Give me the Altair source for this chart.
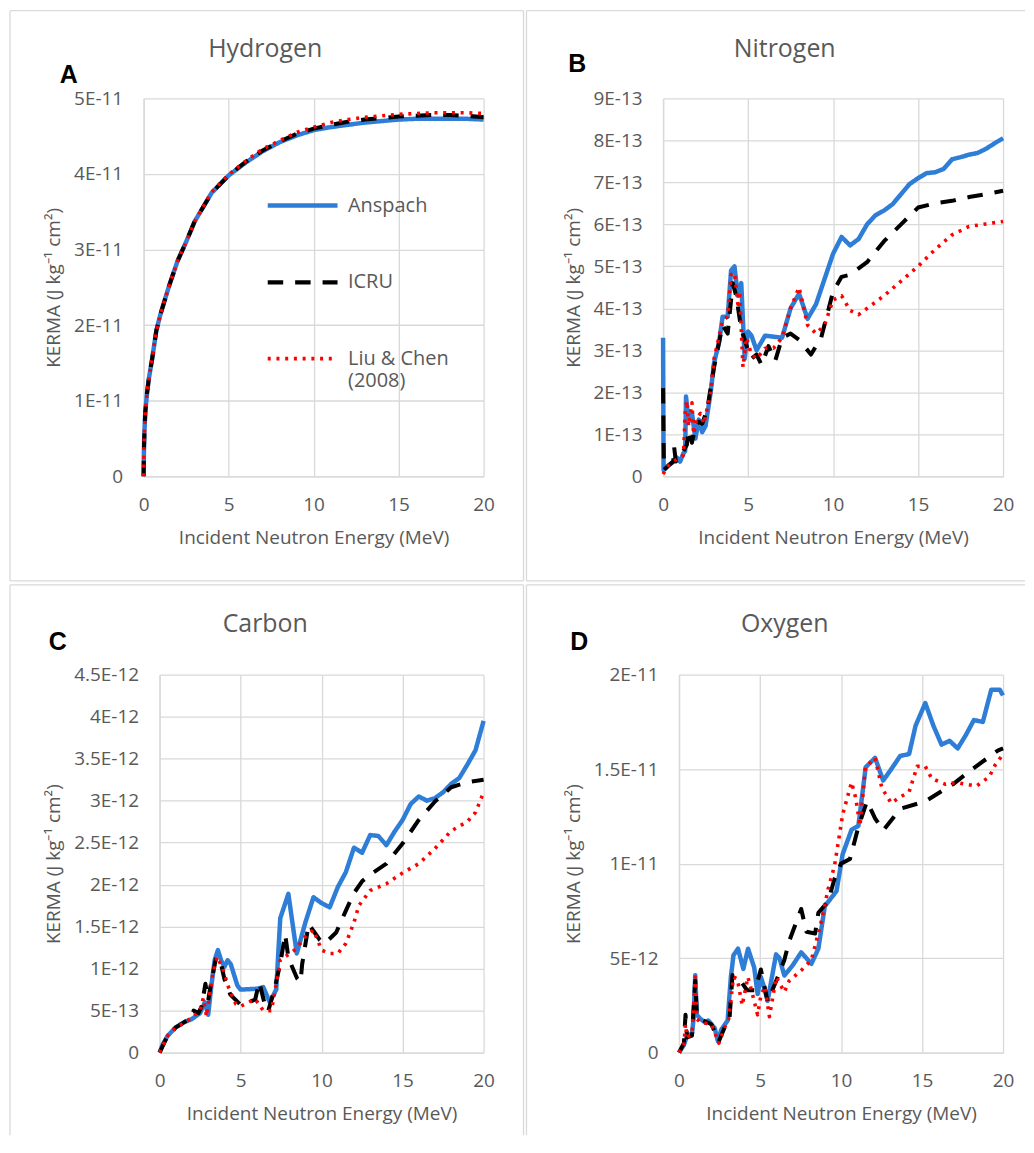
import altair as alt
import pandas as pd

SERIES = ["Anspach", "ICRU", "Liu & Chen (2008)"]
COLORS = ["#2E7DD7", "#000000", "#FF0000"]
DASHES = [[1, 0], [15.5, 12], [3, 5.75]]
WIDTHS = [4.5, 3.6, 3.3]

# ---------------- Hydrogen (values in 1E-11) ----------------
H_E = [0, 0.02, 0.05, 0.1, 0.2, 0.3, 0.5, 0.75, 1.0, 1.5, 2, 2.5, 3, 4, 5, 6, 7, 8, 9, 10,
       11, 12, 13, 14, 15, 16, 17, 18, 19, 20]
H_ANSPACH = [0, 0.35, 0.6, 0.85, 1.1, 1.28, 1.55, 1.93, 2.15, 2.52, 2.85, 3.1, 3.37, 3.75, 3.98,
             4.15, 4.30, 4.42, 4.51, 4.58, 4.62, 4.65, 4.68, 4.70, 4.72, 4.73, 4.73, 4.73, 4.73, 4.72]
H_ICRU = [0, 0.35, 0.6, 0.85, 1.1, 1.28, 1.55, 1.93, 2.15, 2.52, 2.85, 3.1, 3.37, 3.75, 3.98,
          4.16, 4.31, 4.43, 4.53, 4.60, 4.65, 4.69, 4.72, 4.74, 4.76, 4.77, 4.78, 4.78, 4.77, 4.75]
H_LIU = [0, 0.35, 0.6, 0.85, 1.1, 1.28, 1.55, 1.93, 2.15, 2.52, 2.85, 3.1, 3.37, 3.76, 3.99,
         4.17, 4.33, 4.44, 4.55, 4.62, 4.68, 4.72, 4.75, 4.77, 4.79, 4.80, 4.81, 4.81, 4.81, 4.80]

# ---------------- Nitrogen (values in 1E-13) ----------------
N_A_E = [0, 0.03, 0.3, 0.6, 0.8, 1.0, 1.2, 1.3, 1.35, 1.5, 1.7, 1.9, 2.1, 2.3, 2.5, 2.8, 3.0, 3.3,
         3.5, 3.8, 4.0, 4.2, 4.4, 4.6, 4.8, 5.0, 5.2, 5.5, 6.0, 7.0, 7.5, 8.0, 8.5, 9.0, 10.0, 10.5,
         11.0, 11.5, 12.0, 12.5, 13.0, 13.5, 14.0, 14.5, 15.0, 15.5, 16.0, 16.5, 17.0, 17.5, 18.0,
         18.5, 19.0, 19.5, 20.0]
N_A_Y = [3.3, 0.15, 0.25, 0.35, 0.45, 0.35, 0.55, 0.6, 1.9, 1.3, 1.5, 0.9, 1.35, 1.05, 1.2, 2.0,
         2.7, 3.2, 3.8, 3.8, 4.9, 5.0, 4.3, 4.6, 2.8, 3.45, 3.35, 3.0, 3.35, 3.3, 4.0, 4.35, 3.75,
         4.1, 5.3, 5.7, 5.5, 5.65, 6.0, 6.22, 6.33, 6.48, 6.72, 6.96, 7.1, 7.22, 7.24, 7.32, 7.55,
         7.6, 7.66, 7.7, 7.8, 7.93, 8.05]
N_I_E = [0, 0.05, 0.3, 0.6, 0.65, 0.75, 1.0, 1.2, 1.4, 1.5, 1.7, 1.9, 2.1, 2.3, 2.6, 3.0, 3.5,
         3.8, 4.1, 4.3, 4.6, 5.0, 5.2, 5.5, 5.8, 6.2, 6.6, 7.0, 7.5, 8.0, 8.7, 9.3, 10.0, 10.5,
         11.0, 12.0, 13.0, 14.0, 15.0, 16.0, 17.0, 18.0, 19.0, 20.0]
N_I_Y = [2.1, 0.15, 0.25, 0.35, 0.7, 0.35, 0.5, 0.6, 0.75, 1.1, 0.8, 1.2, 1.3, 1.25, 1.6, 2.6,
         3.6, 3.4, 4.6, 4.3, 3.5, 3.0, 2.8, 2.9, 2.65, 3.1, 2.75, 3.3, 3.4, 3.25, 2.9, 3.3, 4.4,
         4.75, 4.8, 5.1, 5.6, 6.0, 6.4, 6.5, 6.56, 6.65, 6.72, 6.8]
N_L_E = [0, 0.3, 0.6, 1.0, 1.2, 1.3, 1.4, 1.5, 1.7, 1.8, 2.0, 2.2, 2.4, 2.8, 3.0, 3.5, 3.8, 4.0,
         4.2, 4.4, 4.5, 4.7, 4.9, 5.2, 5.5, 6.0, 6.5, 7.0, 7.5, 8.0, 8.5, 9.0, 9.5, 10.0, 10.5,
         11.0, 11.5, 12.0, 13.0, 14.0, 15.0, 16.0, 17.0, 18.0, 19.0, 20.0]
N_L_Y = [0.05, 0.25, 0.35, 0.45, 0.5, 1.5, 1.8, 1.2, 1.75, 1.0, 1.4, 1.5, 1.25, 2.0, 2.8, 3.7,
         3.8, 4.8, 4.85, 4.1, 4.4, 2.6, 3.3, 2.9, 2.8, 3.05, 3.05, 3.3, 4.0, 4.5, 3.6, 3.4, 3.6,
         4.2, 4.3, 3.95, 3.85, 4.0, 4.3, 4.65, 5.0, 5.4, 5.75, 5.95, 6.01, 6.07]

# ---------------- Carbon (values in 1E-12) ----------------
C_A_E = [0, 0.2, 0.5, 1.0, 1.5, 2.0, 2.5, 2.8, 3.0, 3.2, 3.4, 3.6, 3.8, 4.0, 4.2, 4.4, 4.8, 5.0,
         6.0, 6.4, 6.8, 7.2, 7.45, 7.95, 8.47, 9.0, 9.5, 10.0, 10.5, 11.0, 11.5, 12.0, 12.5, 13.0,
         13.5, 14.0, 14.5, 15.0, 15.5, 16.0, 16.5, 17.0, 17.5, 18.0, 18.5, 19.0, 19.5, 20.0]
C_A_Y = [0, 0.1, 0.2, 0.3, 0.36, 0.4, 0.47, 0.6, 0.45, 0.8, 1.1, 1.22, 1.1, 1.02, 1.1, 1.05, 0.8,
         0.75, 0.76, 0.78, 0.6, 0.75, 1.6, 1.89, 1.18, 1.55, 1.85, 1.78, 1.73, 1.97, 2.15, 2.44,
         2.38, 2.59, 2.58, 2.47, 2.63, 2.77, 2.96, 3.05, 3.0, 3.03, 3.1, 3.2, 3.27, 3.43, 3.6, 3.95]
C_I_E = [0, 0.5, 1.0, 1.5, 2.0, 2.1, 2.4, 2.6, 2.83, 3.0, 3.2, 3.5, 3.8, 4.0, 4.37, 5.0, 5.5, 5.9,
         6.15, 6.5, 6.7, 7.1, 7.45, 7.75, 7.96, 8.5, 8.7, 8.8, 9.2, 9.9, 10.2, 10.9, 11.5, 12.0,
         12.5, 13.0, 14.0, 15.0, 16.0, 17.0, 18.0, 19.0, 20.0]
C_I_Y = [0, 0.2, 0.3, 0.36, 0.42, 0.5, 0.47, 0.55, 0.82, 0.62, 0.85, 1.14, 1.05, 0.88, 0.69,
         0.57, 0.6, 0.63, 0.84, 0.57, 0.49, 0.76, 1.06, 1.41, 1.12, 0.88, 0.84, 1.05, 1.53, 1.34,
         1.3, 1.43, 1.69, 1.9, 2.04, 2.12, 2.25, 2.49, 2.77, 2.99, 3.16, 3.22, 3.25]
C_L_E = [0, 0.5, 1.0, 1.5, 2.0, 2.5, 2.7, 2.9, 3.1, 3.3, 3.55, 3.9, 4.25, 4.7, 5.0, 5.9, 6.4,
         6.9, 7.05, 7.45, 8.4, 9.0, 9.5, 10.0, 10.5, 11.0, 11.5, 12.0, 12.3, 13.0, 14.0, 15.0,
         16.0, 17.0, 18.0, 19.0, 19.5, 20.0]
C_L_Y = [0, 0.2, 0.3, 0.35, 0.42, 0.5, 0.65, 0.43, 0.7, 0.95, 1.14, 1.0, 0.78, 0.58, 0.55, 0.64,
         0.5, 0.5, 0.65, 1.1, 1.23, 1.38, 1.46, 1.22, 1.18, 1.18, 1.3, 1.55, 1.75, 1.93, 2.01,
         2.14, 2.25, 2.43, 2.64, 2.75, 2.86, 3.1]

# ---------------- Oxygen (values in 1E-12) ----------------
O_A_E = [0, 0.3, 0.5, 0.8, 0.9, 1.0, 1.1, 1.3, 1.6, 1.8, 2.0, 2.2, 2.4, 2.6, 3.0, 3.2, 3.36,
         3.64, 3.97, 4.26, 4.64, 4.85, 5.05, 5.2, 5.47, 5.99, 6.2, 6.5, 7.0, 7.54, 8.17, 8.6, 9.0,
         9.72, 10.1, 10.65, 11.07, 11.52, 12.1, 12.6, 13.1, 13.65, 14.2, 14.6, 15.2, 15.7, 16.2,
         16.7, 17.2, 17.7, 18.2, 18.75, 19.27, 19.8, 20.0]
O_A_Y = [0, 0.4, 0.9, 1.0, 1.8, 4.1, 2.0, 1.8, 1.6, 1.7, 1.5, 1.3, 0.6, 1.2, 1.7, 4.0, 5.15, 5.5,
         4.43, 5.5, 4.5, 3.1, 4.0, 3.6, 2.74, 5.2, 5.0, 4.08, 4.6, 5.3, 4.7, 5.5, 7.75, 8.55, 10.5,
         11.8, 12.0, 15.1, 15.6, 14.4, 15.0, 15.7, 15.8, 17.3, 18.5, 17.3, 16.3, 16.5, 16.1, 16.8,
         17.6, 17.5, 19.2, 19.2, 18.9]
O_I_E = [0, 0.3, 0.4, 0.5, 0.8, 1.0, 1.1, 1.5, 2.0, 2.46, 2.8, 3.1, 3.3, 3.8, 4.2, 4.7, 5.05,
         5.47, 6.0, 6.5, 6.8, 7.54, 7.86, 8.4, 8.6, 9.2, 9.6, 10.0, 10.55, 11.07, 11.6, 12.1, 12.6,
         13.65, 15.2, 16.9, 18.1, 19.7, 20.0]
O_I_Y = [0, 0.5, 2.0, 0.8, 0.9, 3.8, 2.0, 1.7, 1.5, 0.6, 1.3, 1.6, 4.1, 3.8, 3.3, 3.3, 4.4, 2.7,
         3.8, 4.9, 5.9, 7.6, 6.4, 6.3, 7.4, 8.0, 9.2, 10.0, 10.25, 11.95, 13.3, 12.4, 11.75, 12.9,
         13.3, 14.2, 15.0, 16.0, 16.1]
O_L_E = [0, 0.3, 0.4, 0.5, 0.8, 1.0, 1.1, 1.3, 2.0, 2.46, 2.8, 3.07, 3.36, 3.6, 3.9, 4.25, 4.5,
         4.85, 5.05, 5.3, 5.58, 6.0, 6.5, 6.8, 7.54, 8.17, 8.8, 9.2, 9.6, 10.1, 10.55, 10.65, 10.9,
         11.17, 11.5, 12.1, 12.52, 13.1, 13.6, 14.2, 14.7, 15.2, 15.6, 16.45, 17.1, 18.35, 19.15,
         19.5, 20.0]
O_L_Y = [0, 0.4, 1.5, 0.8, 1.0, 4.0, 1.8, 1.6, 1.5, 0.5, 1.3, 1.8, 4.0, 3.9, 2.5, 4.0, 3.2, 2.0,
         3.0, 3.5, 1.9, 4.0, 3.2, 3.8, 4.35, 4.9, 7.0, 8.65, 9.9, 12.6, 14.0, 14.3, 13.5, 12.0,
         15.1, 15.6, 14.0, 13.2, 13.5, 13.8, 15.15, 15.15, 14.5, 14.2, 14.3, 14.1, 14.6, 15.2, 15.8]

FONT = "Open Sans"
GRAY = "#595959"
GRID = "#D9D9D9"


def long_table(parts, unit):
    rows = []
    for name, xs, ys in parts:
        for x, y in zip(xs, ys):
            rows.append({"E": x, "K": y * unit, "series": name})
    return pd.DataFrame(rows)


H_DF = long_table([(SERIES[0], H_E, H_ANSPACH), (SERIES[1], H_E, H_ICRU),
                   (SERIES[2], H_E, H_LIU)], 1e-11)
N_DF = long_table([(SERIES[0], N_A_E, N_A_Y), (SERIES[1], N_I_E, N_I_Y),
                   (SERIES[2], N_L_E, N_L_Y)], 1e-13)
C_DF = long_table([(SERIES[0], C_A_E, C_A_Y), (SERIES[1], C_I_E, C_I_Y),
                   (SERIES[2], C_L_E, C_L_Y)], 1e-12)
O_DF = long_table([(SERIES[0], O_A_E, O_A_Y), (SERIES[1], O_I_E, O_I_Y),
                   (SERIES[2], O_L_E, O_L_Y)], 1e-12)

LABEL_EXPR = "datum.value == 0 ? '0' : upper(format(datum.value, '~e'))"
LEGEND_LABEL = "datum.label == 'Liu & Chen (2008)' ? ['Liu & Chen', '(2008)'] : datum.label"

DUMMY = pd.DataFrame({"k": [0]})


def panel(df, ymax, yticks, title, letter, g, legend):
    w, h = g["w"], g["h"]
    if legend:
        leg = alt.Legend(orient="none", legendX=122, legendY=70, title=None,
                         symbolType="stroke", symbolSize=4900, labelFont=FONT,
                         labelFontSize=20, labelColor=GRAY, labelOffset=8,
                         rowPadding=29, padding=0, labelExpr=LEGEND_LABEL)
    else:
        leg = None
    lines = alt.Chart(df).mark_line(strokeJoin="round").encode(
        x=alt.X("E:Q", scale=alt.Scale(domain=[0, 20], nice=False),
                axis=alt.Axis(values=[0, 5, 10, 15, 20], title="Incident Neutron Energy (MeV)",
                              titleY=61.5, titleBaseline="middle", labelPadding=19,
                              labelFlush=False, labelOverlap=False)),
        y=alt.Y("K:Q", scale=alt.Scale(domain=[0, ymax], nice=False, zero=True),
                axis=alt.Axis(values=yticks, title="KERMA (J kg\u207b\u00b9 cm\u00b2)",
                              titleX=g["ytx"], titleBaseline="middle", labelExpr=LABEL_EXPR,
                              labelPadding=21, labelOverlap=False)),
        color=alt.Color("series:N", scale=alt.Scale(domain=SERIES, range=COLORS), legend=leg),
        strokeDash=alt.StrokeDash("series:N", scale=alt.Scale(domain=SERIES, range=DASHES),
                                  legend=leg),
        strokeWidth=alt.StrokeWidth("series:N", scale=alt.Scale(domain=SERIES, range=WIDTHS),
                                    legend=leg),
    )
    bx1, bx2, by1, by2 = g["bounds"]
    x1, x2, y1, y2 = g["frame"]
    layers = [
        alt.Chart(DUMMY).mark_rect(opacity=0).encode(
            x=alt.value(bx1), x2=alt.value(bx2), y=alt.value(by1), y2=alt.value(by2)),
    ]
    rule = dict(color=GRID, strokeWidth=1.3)
    if "top" in g["sides"]:
        layers.append(alt.Chart(DUMMY).mark_rule(**rule).encode(
            x=alt.value(x1), x2=alt.value(x2), y=alt.value(y1)))
    if "bottom" in g["sides"]:
        layers.append(alt.Chart(DUMMY).mark_rule(**rule).encode(
            x=alt.value(x1), x2=alt.value(x2), y=alt.value(y2)))
    if "left" in g["sides"]:
        layers.append(alt.Chart(DUMMY).mark_rule(**rule).encode(
            x=alt.value(x1), y=alt.value(y1), y2=alt.value(y2)))
    if "right" in g["sides"]:
        layers.append(alt.Chart(DUMMY).mark_rule(**rule).encode(
            x=alt.value(x2), y=alt.value(y1), y2=alt.value(y2)))
    layers.append(lines)
    layers.append(alt.Chart(DUMMY).mark_text(
        font=FONT, fontSize=25, color=GRAY, align="center", baseline="middle", text=title
    ).encode(x=alt.value(g["tt"][0]), y=alt.value(g["tt"][1])))
    layers.append(alt.Chart(DUMMY).mark_text(
        font="Liberation Sans", fontSize=25, fontWeight="bold", color="#000000",
        align="center", baseline="middle", text=letter
    ).encode(x=alt.value(g["lt"][0]), y=alt.value(g["lt"][1])))
    return alt.layer(*layers).properties(width=w, height=h)


# bounds = layout extent (plot-relative px); frame = visible panel border lines
GA = dict(w=341, h=379, bounds=(-134, 383, -88, 484), frame=(-134, 381, -88, 484), ytx=-90,
          tt=(122, -50), lt=(-75, -23), sides=("top", "bottom", "left", "right"))
GB = dict(w=341, h=379, bounds=(-137, 363, -88, 484), frame=(-137, 363, -88, 484), ytx=-90,
          tt=(122, -50), lt=(-86, -34), sides=("top", "bottom", "left"))
GC = dict(w=325, h=379, bounds=(-150, 367, -90, 462), frame=(-150, 365, -90, 462), ytx=-106,
          tt=(106, -51), lt=(-102, -33), sides=("top", "left", "right"))
GD = dict(w=325, h=379, bounds=(-153, 347, -90, 462), frame=(-153, 347, -90, 462), ytx=-106,
          tt=(106, -51), lt=(-100, -33), sides=("top", "left"))

pA = panel(H_DF, 5e-11, [i * 1e-11 for i in range(6)], "Hydrogen", "A", GA, True)
pB = panel(N_DF, 9e-13, [i * 1e-13 for i in range(10)], "Nitrogen", "B", GB, False)
pC = panel(C_DF, 4.5e-12, [i * 0.5e-12 for i in range(10)], "Carbon", "C", GC, False)
pD = panel(O_DF, 2e-11, [i * 5e-12 for i in range(5)], "Oxygen", "D", GD, False)


def spacer():
    return alt.Chart(DUMMY).mark_rect(opacity=0).encode(
        x=alt.value(0), x2=alt.value(1), y=alt.value(0), y2=alt.value(1)
    ).properties(width=1, height=1)


top = alt.hconcat(spacer(), pA, pB, spacing=0).resolve_scale(
    x="independent", y="independent"
).resolve_legend(color="independent", strokeDash="independent", strokeWidth="independent")
bottom = alt.hconcat(spacer(), pC, pD, spacing=0).resolve_scale(
    x="independent", y="independent")

chart = alt.vconcat(top, bottom, spacing=2).resolve_scale(
    x="independent", y="independent"
).properties(padding=0, background="white").configure_view(stroke=None).configure_axis(
    labelFont=FONT, labelFontSize=19, labelColor=GRAY, titleFont=FONT, titleFontSize=19,
    titleColor=GRAY, titleFontWeight="normal", gridColor=GRID, gridWidth=1.3,
    domainColor=GRID, domainWidth=1.3, ticks=False, tickSize=0
)

chart.save("out.html", embed_options={"renderer": "svg", "actions": False})
